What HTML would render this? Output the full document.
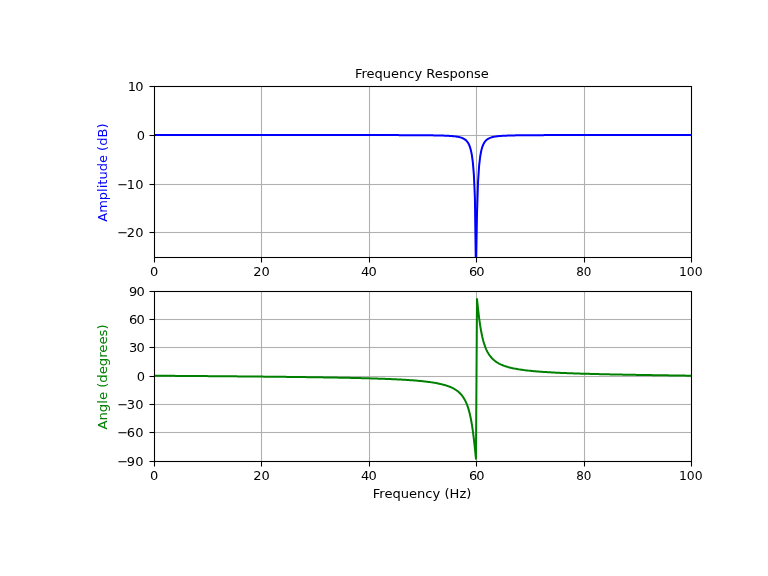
<!DOCTYPE html>
<html lang="en">
<head>
<meta charset="utf-8">
<title>Frequency Response</title>
<style>
html,body{margin:0;padding:0;background:#ffffff;overflow:hidden}
svg{display:block}
text{font-family:"DejaVu Sans","Liberation Sans",sans-serif;font-size:13px;fill:#000000}
.grid{fill:#b0b0b0}
.ax{fill:#000000}
.curve{fill:none;stroke-width:2.000;stroke-linejoin:round;stroke-linecap:square}
</style>
</head>
<body>
<svg width="768" height="576" viewBox="0 0 768 576">
<rect x="0" y="0" width="768" height="576" fill="#ffffff"/>
<defs>
<clipPath id="c0"><rect x="154" y="86" width="537" height="171"/></clipPath>
<clipPath id="c1"><rect x="154" y="291" width="537" height="170"/></clipPath>
</defs>
<g id="axes0">
<rect class="grid" x="153.9667" y="86.000" width="1.0667" height="171.000"/>
<rect class="grid" x="260.9667" y="86.000" width="1.0667" height="171.000"/>
<rect class="grid" x="368.9667" y="86.000" width="1.0667" height="171.000"/>
<rect class="grid" x="475.9667" y="86.000" width="1.0667" height="171.000"/>
<rect class="grid" x="583.9667" y="86.000" width="1.0667" height="171.000"/>
<rect class="grid" x="690.9667" y="86.000" width="1.0667" height="171.000"/>
<rect class="grid" x="154.000" y="231.9667" width="537.000" height="1.0667"/>
<rect class="grid" x="154.000" y="183.9667" width="537.000" height="1.0667"/>
<rect class="grid" x="154.000" y="134.9667" width="537.000" height="1.0667"/>
<rect class="grid" x="154.000" y="85.9667" width="537.000" height="1.0667"/>
<polyline class="curve" clip-path="url(#c0)" stroke="#0000ff" points="153.60,135.02 154.65,135.02 155.70,135.02 156.75,135.02 157.80,135.02 158.85,135.02 159.90,135.02 160.95,135.02 162.00,135.02 163.05,135.02 164.10,135.02 165.15,135.02 166.20,135.02 167.25,135.02 168.30,135.02 169.35,135.02 170.40,135.02 171.45,135.02 172.50,135.02 173.55,135.02 174.60,135.02 175.65,135.02 176.70,135.02 177.75,135.02 178.80,135.02 179.85,135.02 180.90,135.02 181.95,135.02 183.00,135.02 184.05,135.02 185.10,135.02 186.15,135.02 187.20,135.02 188.25,135.02 189.30,135.02 190.35,135.02 191.40,135.02 192.45,135.02 193.50,135.02 194.55,135.02 195.60,135.02 196.65,135.02 197.70,135.02 198.75,135.02 199.80,135.02 200.85,135.02 201.90,135.02 202.95,135.02 204.00,135.02 205.05,135.02 206.10,135.02 207.15,135.02 208.20,135.02 209.25,135.02 210.30,135.02 211.35,135.02 212.40,135.02 213.45,135.02 214.50,135.03 215.55,135.03 216.60,135.03 217.65,135.03 218.70,135.03 219.75,135.03 220.80,135.03 221.85,135.03 222.90,135.03 223.95,135.03 225.00,135.03 226.05,135.03 227.10,135.03 228.15,135.03 229.20,135.03 230.25,135.03 231.30,135.03 232.35,135.03 233.40,135.03 234.45,135.03 235.50,135.03 236.55,135.03 237.60,135.03 238.65,135.03 239.70,135.03 240.75,135.03 241.80,135.03 242.85,135.03 243.90,135.03 244.95,135.03 246.00,135.03 247.05,135.03 248.10,135.03 249.15,135.03 250.20,135.03 251.25,135.03 252.30,135.03 253.35,135.03 254.40,135.03 255.45,135.03 256.50,135.03 257.55,135.03 258.60,135.03 259.65,135.03 260.70,135.03 261.75,135.03 262.80,135.03 263.85,135.03 264.90,135.03 265.95,135.03 267.00,135.03 268.05,135.03 269.10,135.03 270.15,135.03 271.20,135.03 272.25,135.03 273.30,135.03 274.35,135.03 275.40,135.03 276.45,135.03 277.50,135.03 278.55,135.03 279.60,135.03 280.65,135.03 281.70,135.03 282.75,135.03 283.80,135.03 284.85,135.03 285.90,135.03 286.95,135.03 288.00,135.03 289.05,135.03 290.10,135.03 291.15,135.03 292.20,135.03 293.25,135.03 294.30,135.03 295.35,135.04 296.40,135.04 297.45,135.04 298.50,135.04 299.55,135.04 300.60,135.04 301.65,135.04 302.70,135.04 303.75,135.04 304.80,135.04 305.85,135.04 306.90,135.04 307.95,135.04 309.00,135.04 310.05,135.04 311.10,135.04 312.15,135.04 313.20,135.04 314.25,135.04 315.30,135.04 316.35,135.04 317.40,135.04 318.45,135.04 319.50,135.04 320.55,135.04 321.60,135.04 322.65,135.04 323.70,135.04 324.75,135.04 325.80,135.04 326.85,135.04 327.90,135.05 328.95,135.05 330.00,135.05 331.05,135.05 332.10,135.05 333.15,135.05 334.20,135.05 335.25,135.05 336.30,135.05 337.35,135.05 338.40,135.05 339.45,135.05 340.50,135.05 341.55,135.05 342.60,135.05 343.65,135.05 344.70,135.05 345.75,135.05 346.80,135.05 347.85,135.06 348.90,135.06 349.95,135.06 351.00,135.06 352.05,135.06 353.10,135.06 354.15,135.06 355.20,135.06 356.25,135.06 357.30,135.06 358.35,135.06 359.40,135.06 360.45,135.06 361.50,135.07 362.55,135.07 363.60,135.07 364.65,135.07 365.70,135.07 366.75,135.07 367.80,135.07 368.85,135.07 369.90,135.07 370.95,135.08 372.00,135.08 373.05,135.08 374.10,135.08 375.15,135.08 376.20,135.08 377.25,135.08 378.30,135.08 379.35,135.09 380.40,135.09 381.45,135.09 382.50,135.09 383.55,135.09 384.60,135.09 385.65,135.10 386.70,135.10 387.75,135.10 388.80,135.10 389.85,135.10 390.90,135.11 391.95,135.11 393.00,135.11 394.05,135.11 395.10,135.12 396.15,135.12 397.20,135.12 398.25,135.12 399.30,135.13 400.35,135.13 401.40,135.13 402.45,135.14 403.50,135.14 404.55,135.14 405.60,135.15 406.65,135.15 407.70,135.16 408.75,135.16 409.80,135.16 410.85,135.17 411.90,135.17 412.95,135.18 414.00,135.19 415.05,135.19 416.10,135.20 417.15,135.20 418.20,135.21 419.25,135.22 420.30,135.22 421.35,135.23 422.40,135.24 423.45,135.25 424.50,135.26 425.55,135.27 426.60,135.28 427.65,135.29 428.70,135.30 429.75,135.32 430.80,135.33 431.85,135.34 432.90,135.36 433.95,135.38 435.00,135.39 436.05,135.41 437.10,135.43 438.15,135.46 439.20,135.48 440.25,135.51 441.30,135.54 442.35,135.57 443.40,135.61 444.45,135.64 445.50,135.69 446.55,135.73 447.60,135.78 448.65,135.84 449.70,135.91 450.75,135.98 451.80,136.06 452.85,136.15 453.90,136.26 454.95,136.38 456.00,136.52 457.05,136.68 458.10,136.86 459.15,137.08 460.20,137.35 461.25,137.66 462.30,138.04 463.35,138.52 464.40,139.10 465.45,139.85 466.50,140.80 467.55,142.07 468.60,143.76 469.65,146.11 470.70,149.44 471.75,154.36 472.80,161.94 473.85,174.36 474.90,197.49 475.95,272.02 477.00,213.91 478.05,181.58 479.10,165.95 480.15,156.78 481.20,150.96 482.25,147.08 483.30,144.40 484.35,142.48 485.40,141.08 486.45,140.02 487.50,139.21 488.55,138.58 489.60,138.07 490.65,137.67 491.70,137.33 492.75,137.06 493.80,136.83 494.85,136.63 495.90,136.47 496.95,136.33 498.00,136.20 499.05,136.10 500.10,136.00 501.15,135.92 502.20,135.85 503.25,135.78 504.30,135.73 505.35,135.68 506.40,135.63 507.45,135.59 508.50,135.55 509.55,135.52 510.60,135.49 511.65,135.46 512.70,135.43 513.75,135.41 514.80,135.39 515.85,135.36 516.90,135.35 517.95,135.33 519.00,135.31 520.05,135.30 521.10,135.28 522.15,135.27 523.20,135.26 524.25,135.25 525.30,135.24 526.35,135.23 527.40,135.22 528.45,135.21 529.50,135.20 530.55,135.19 531.60,135.19 532.65,135.18 533.70,135.17 534.75,135.17 535.80,135.16 536.85,135.16 537.90,135.15 538.95,135.15 540.00,135.14 541.05,135.14 542.10,135.13 543.15,135.13 544.20,135.12 545.25,135.12 546.30,135.12 547.35,135.11 548.40,135.11 549.45,135.11 550.50,135.10 551.55,135.10 552.60,135.10 553.65,135.10 554.70,135.09 555.75,135.09 556.80,135.09 557.85,135.09 558.90,135.08 559.95,135.08 561.00,135.08 562.05,135.08 563.10,135.08 564.15,135.08 565.20,135.07 566.25,135.07 567.30,135.07 568.35,135.07 569.40,135.07 570.45,135.07 571.50,135.06 572.55,135.06 573.60,135.06 574.65,135.06 575.70,135.06 576.75,135.06 577.80,135.06 578.85,135.06 579.90,135.06 580.95,135.05 582.00,135.05 583.05,135.05 584.10,135.05 585.15,135.05 586.20,135.05 587.25,135.05 588.30,135.05 589.35,135.05 590.40,135.05 591.45,135.05 592.50,135.05 593.55,135.04 594.60,135.04 595.65,135.04 596.70,135.04 597.75,135.04 598.80,135.04 599.85,135.04 600.90,135.04 601.95,135.04 603.00,135.04 604.05,135.04 605.10,135.04 606.15,135.04 607.20,135.04 608.25,135.04 609.30,135.04 610.35,135.04 611.40,135.04 612.45,135.04 613.50,135.03 614.55,135.03 615.60,135.03 616.65,135.03 617.70,135.03 618.75,135.03 619.80,135.03 620.85,135.03 621.90,135.03 622.95,135.03 624.00,135.03 625.05,135.03 626.10,135.03 627.15,135.03 628.20,135.03 629.25,135.03 630.30,135.03 631.35,135.03 632.40,135.03 633.45,135.03 634.50,135.03 635.55,135.03 636.60,135.03 637.65,135.03 638.70,135.03 639.75,135.03 640.80,135.03 641.85,135.03 642.90,135.03 643.95,135.03 645.00,135.03 646.05,135.03 647.10,135.03 648.15,135.03 649.20,135.03 650.25,135.03 651.30,135.03 652.35,135.03 653.40,135.03 654.45,135.03 655.50,135.03 656.55,135.03 657.60,135.03 658.65,135.03 659.70,135.02 660.75,135.02 661.80,135.02 662.85,135.02 663.90,135.02 664.95,135.02 666.00,135.02 667.05,135.02 668.10,135.02 669.15,135.02 670.20,135.02 671.25,135.02 672.30,135.02 673.35,135.02 674.40,135.02 675.45,135.02 676.50,135.02 677.55,135.02 678.60,135.02 679.65,135.02 680.70,135.02 681.75,135.02 682.80,135.02 683.85,135.02 684.90,135.02 685.95,135.02 687.00,135.02 688.05,135.02 689.10,135.02 690.15,135.02"/>
<rect class="ax" x="153.9667" y="257.500" width="1.0667" height="5.000"/>
<rect class="ax" x="260.9667" y="257.500" width="1.0667" height="5.000"/>
<rect class="ax" x="368.9667" y="257.500" width="1.0667" height="5.000"/>
<rect class="ax" x="475.9667" y="257.500" width="1.0667" height="5.000"/>
<rect class="ax" x="583.9667" y="257.500" width="1.0667" height="5.000"/>
<rect class="ax" x="690.9667" y="257.500" width="1.0667" height="5.000"/>
<rect class="ax" x="149.500" y="231.9667" width="5.000" height="1.0667"/>
<rect class="ax" x="149.500" y="183.9667" width="5.000" height="1.0667"/>
<rect class="ax" x="149.500" y="134.9667" width="5.000" height="1.0667"/>
<rect class="ax" x="149.500" y="85.9667" width="5.000" height="1.0667"/>
<rect class="ax" x="153.9667" y="87.033" width="1.0667" height="169.933"/>
<rect class="ax" x="690.9667" y="87.033" width="1.0667" height="169.933"/>
<rect class="ax" x="153.967" y="85.9667" width="538.067" height="1.0667"/>
<rect class="ax" x="153.967" y="256.9667" width="538.067" height="1.0667"/>
<text x="150.06" y="275.88">0</text>
<text x="253.30 261.57" y="275.88">20</text>
<text x="360.99 368.45" y="275.88">40</text>
<text x="468.95 476.16" y="275.88">60</text>
<text transform="translate(576.14 275.88) scale(0.9200 1)" x="0.00 8.39">80</text>
<text transform="translate(679.03 275.88) scale(0.9550 1)" x="0.00 8.00 16.52">100</text>
<text x="117.24 126.79 135.20" y="237.27">−20</text>
<text x="117.24 126.79 135.20" y="188.65">−10</text>
<text x="136.85" y="140.02">0</text>
<text x="127.83 135.20" y="91.40">10</text>
</g>
<g id="axes1">
<rect class="grid" x="153.9667" y="291.000" width="1.0667" height="170.000"/>
<rect class="grid" x="260.9667" y="291.000" width="1.0667" height="170.000"/>
<rect class="grid" x="368.9667" y="291.000" width="1.0667" height="170.000"/>
<rect class="grid" x="475.9667" y="291.000" width="1.0667" height="170.000"/>
<rect class="grid" x="583.9667" y="291.000" width="1.0667" height="170.000"/>
<rect class="grid" x="690.9667" y="291.000" width="1.0667" height="170.000"/>
<rect class="grid" x="154.000" y="460.9667" width="537.000" height="1.0667"/>
<rect class="grid" x="154.000" y="431.9667" width="537.000" height="1.0667"/>
<rect class="grid" x="154.000" y="403.9667" width="537.000" height="1.0667"/>
<rect class="grid" x="154.000" y="375.9667" width="537.000" height="1.0667"/>
<rect class="grid" x="154.000" y="346.9667" width="537.000" height="1.0667"/>
<rect class="grid" x="154.000" y="318.9667" width="537.000" height="1.0667"/>
<rect class="grid" x="154.000" y="290.9667" width="537.000" height="1.0667"/>
<polyline class="curve" clip-path="url(#c1)" stroke="#008000" points="153.60,375.71 154.65,375.72 155.70,375.73 156.75,375.73 157.80,375.74 158.85,375.75 159.90,375.76 160.95,375.76 162.00,375.77 163.05,375.78 164.10,375.79 165.15,375.80 166.20,375.80 167.25,375.81 168.30,375.82 169.35,375.83 170.40,375.84 171.45,375.85 172.50,375.85 173.55,375.86 174.60,375.87 175.65,375.88 176.70,375.89 177.75,375.89 178.80,375.90 179.85,375.91 180.90,375.92 181.95,375.93 183.00,375.93 184.05,375.94 185.10,375.95 186.15,375.96 187.20,375.97 188.25,375.97 189.30,375.98 190.35,375.99 191.40,376.00 192.45,376.01 193.50,376.02 194.55,376.02 195.60,376.03 196.65,376.04 197.70,376.05 198.75,376.06 199.80,376.07 200.85,376.07 201.90,376.08 202.95,376.09 204.00,376.10 205.05,376.11 206.10,376.12 207.15,376.12 208.20,376.13 209.25,376.14 210.30,376.15 211.35,376.16 212.40,376.17 213.45,376.18 214.50,376.18 215.55,376.19 216.60,376.20 217.65,376.21 218.70,376.22 219.75,376.23 220.80,376.24 221.85,376.25 222.90,376.26 223.95,376.26 225.00,376.27 226.05,376.28 227.10,376.29 228.15,376.30 229.20,376.31 230.25,376.32 231.30,376.33 232.35,376.34 233.40,376.35 234.45,376.35 235.50,376.36 236.55,376.37 237.60,376.38 238.65,376.39 239.70,376.40 240.75,376.41 241.80,376.42 242.85,376.43 243.90,376.44 244.95,376.45 246.00,376.46 247.05,376.47 248.10,376.48 249.15,376.49 250.20,376.50 251.25,376.51 252.30,376.52 253.35,376.53 254.40,376.54 255.45,376.55 256.50,376.56 257.55,376.57 258.60,376.58 259.65,376.59 260.70,376.60 261.75,376.61 262.80,376.62 263.85,376.63 264.90,376.64 265.95,376.65 267.00,376.66 268.05,376.67 269.10,376.69 270.15,376.70 271.20,376.71 272.25,376.72 273.30,376.73 274.35,376.74 275.40,376.75 276.45,376.76 277.50,376.77 278.55,376.79 279.60,376.80 280.65,376.81 281.70,376.82 282.75,376.83 283.80,376.84 284.85,376.86 285.90,376.87 286.95,376.88 288.00,376.89 289.05,376.91 290.10,376.92 291.15,376.93 292.20,376.94 293.25,376.96 294.30,376.97 295.35,376.98 296.40,377.00 297.45,377.01 298.50,377.02 299.55,377.04 300.60,377.05 301.65,377.06 302.70,377.08 303.75,377.09 304.80,377.10 305.85,377.12 306.90,377.13 307.95,377.15 309.00,377.16 310.05,377.18 311.10,377.19 312.15,377.21 313.20,377.22 314.25,377.24 315.30,377.25 316.35,377.27 317.40,377.28 318.45,377.30 319.50,377.31 320.55,377.33 321.60,377.35 322.65,377.36 323.70,377.38 324.75,377.40 325.80,377.41 326.85,377.43 327.90,377.45 328.95,377.46 330.00,377.48 331.05,377.50 332.10,377.52 333.15,377.54 334.20,377.56 335.25,377.57 336.30,377.59 337.35,377.61 338.40,377.63 339.45,377.65 340.50,377.67 341.55,377.69 342.60,377.71 343.65,377.73 344.70,377.75 345.75,377.78 346.80,377.80 347.85,377.82 348.90,377.84 349.95,377.86 351.00,377.89 352.05,377.91 353.10,377.93 354.15,377.96 355.20,377.98 356.25,378.01 357.30,378.03 358.35,378.06 359.40,378.08 360.45,378.11 361.50,378.13 362.55,378.16 363.60,378.19 364.65,378.22 365.70,378.25 366.75,378.27 367.80,378.30 368.85,378.33 369.90,378.36 370.95,378.39 372.00,378.43 373.05,378.46 374.10,378.49 375.15,378.52 376.20,378.56 377.25,378.59 378.30,378.63 379.35,378.66 380.40,378.70 381.45,378.73 382.50,378.77 383.55,378.81 384.60,378.85 385.65,378.89 386.70,378.93 387.75,378.97 388.80,379.02 389.85,379.06 390.90,379.11 391.95,379.15 393.00,379.20 394.05,379.25 395.10,379.30 396.15,379.35 397.20,379.40 398.25,379.45 399.30,379.51 400.35,379.56 401.40,379.62 402.45,379.68 403.50,379.74 404.55,379.80 405.60,379.86 406.65,379.93 407.70,380.00 408.75,380.07 409.80,380.14 410.85,380.21 411.90,380.29 412.95,380.36 414.00,380.45 415.05,380.53 416.10,380.61 417.15,380.70 418.20,380.80 419.25,380.89 420.30,380.99 421.35,381.09 422.40,381.20 423.45,381.31 424.50,381.42 425.55,381.54 426.60,381.67 427.65,381.80 428.70,381.93 429.75,382.07 430.80,382.22 431.85,382.37 432.90,382.53 433.95,382.70 435.00,382.88 436.05,383.06 437.10,383.26 438.15,383.46 439.20,383.68 440.25,383.91 441.30,384.15 442.35,384.41 443.40,384.68 444.45,384.97 445.50,385.28 446.55,385.61 447.60,385.96 448.65,386.34 449.70,386.75 450.75,387.19 451.80,387.66 452.85,388.18 453.90,388.74 454.95,389.35 456.00,390.02 457.05,390.76 458.10,391.58 459.15,392.49 460.20,393.51 461.25,394.66 462.30,395.96 463.35,397.44 464.40,399.14 465.45,401.11 466.50,403.41 467.55,406.13 468.60,409.37 469.65,413.26 470.70,417.97 471.75,423.70 472.80,430.62 473.85,438.86 474.90,448.35 475.95,458.69 477.00,299.02 478.05,308.96 479.10,317.79 480.15,325.30 481.20,331.55 482.25,336.69 483.30,340.93 484.35,344.45 485.40,347.39 486.45,349.87 487.50,351.98 488.55,353.80 489.60,355.37 490.65,356.75 491.70,357.96 492.75,359.03 493.80,359.99 494.85,360.85 495.90,361.63 496.95,362.33 498.00,362.97 499.05,363.55 500.10,364.09 501.15,364.58 502.20,365.03 503.25,365.46 504.30,365.85 505.35,366.21 506.40,366.55 507.45,366.87 508.50,367.17 509.55,367.45 510.60,367.71 511.65,367.96 512.70,368.20 513.75,368.42 514.80,368.63 515.85,368.83 516.90,369.02 517.95,369.20 519.00,369.37 520.05,369.54 521.10,369.70 522.15,369.85 523.20,369.99 524.25,370.13 525.30,370.26 526.35,370.39 527.40,370.51 528.45,370.63 529.50,370.74 530.55,370.85 531.60,370.95 532.65,371.05 533.70,371.15 534.75,371.24 535.80,371.34 536.85,371.42 537.90,371.51 538.95,371.59 540.00,371.67 541.05,371.75 542.10,371.83 543.15,371.90 544.20,371.97 545.25,372.04 546.30,372.11 547.35,372.17 548.40,372.23 549.45,372.30 550.50,372.36 551.55,372.42 552.60,372.47 553.65,372.53 554.70,372.58 555.75,372.64 556.80,372.69 557.85,372.74 558.90,372.79 559.95,372.84 561.00,372.88 562.05,372.93 563.10,372.98 564.15,373.02 565.20,373.06 566.25,373.11 567.30,373.15 568.35,373.19 569.40,373.23 570.45,373.27 571.50,373.31 572.55,373.35 573.60,373.38 574.65,373.42 575.70,373.46 576.75,373.49 577.80,373.53 578.85,373.56 579.90,373.59 580.95,373.63 582.00,373.66 583.05,373.69 584.10,373.72 585.15,373.75 586.20,373.78 587.25,373.81 588.30,373.84 589.35,373.87 590.40,373.90 591.45,373.93 592.50,373.96 593.55,373.98 594.60,374.01 595.65,374.04 596.70,374.06 597.75,374.09 598.80,374.11 599.85,374.14 600.90,374.16 601.95,374.19 603.00,374.21 604.05,374.24 605.10,374.26 606.15,374.29 607.20,374.31 608.25,374.33 609.30,374.35 610.35,374.38 611.40,374.40 612.45,374.42 613.50,374.44 614.55,374.46 615.60,374.49 616.65,374.51 617.70,374.53 618.75,374.55 619.80,374.57 620.85,374.59 621.90,374.61 622.95,374.63 624.00,374.65 625.05,374.67 626.10,374.69 627.15,374.71 628.20,374.73 629.25,374.75 630.30,374.77 631.35,374.78 632.40,374.80 633.45,374.82 634.50,374.84 635.55,374.86 636.60,374.88 637.65,374.89 638.70,374.91 639.75,374.93 640.80,374.95 641.85,374.96 642.90,374.98 643.95,375.00 645.00,375.02 646.05,375.03 647.10,375.05 648.15,375.07 649.20,375.08 650.25,375.10 651.30,375.12 652.35,375.13 653.40,375.15 654.45,375.17 655.50,375.18 656.55,375.20 657.60,375.21 658.65,375.23 659.70,375.25 660.75,375.26 661.80,375.28 662.85,375.29 663.90,375.31 664.95,375.33 666.00,375.34 667.05,375.36 668.10,375.37 669.15,375.39 670.20,375.40 671.25,375.42 672.30,375.44 673.35,375.45 674.40,375.47 675.45,375.48 676.50,375.50 677.55,375.51 678.60,375.53 679.65,375.54 680.70,375.56 681.75,375.57 682.80,375.59 683.85,375.60 684.90,375.62 685.95,375.63 687.00,375.65 688.05,375.66 689.10,375.68 690.15,375.69"/>
<rect class="ax" x="153.9667" y="461.500" width="1.0667" height="5.000"/>
<rect class="ax" x="260.9667" y="461.500" width="1.0667" height="5.000"/>
<rect class="ax" x="368.9667" y="461.500" width="1.0667" height="5.000"/>
<rect class="ax" x="475.9667" y="461.500" width="1.0667" height="5.000"/>
<rect class="ax" x="583.9667" y="461.500" width="1.0667" height="5.000"/>
<rect class="ax" x="690.9667" y="461.500" width="1.0667" height="5.000"/>
<rect class="ax" x="149.500" y="460.9667" width="5.000" height="1.0667"/>
<rect class="ax" x="149.500" y="431.9667" width="5.000" height="1.0667"/>
<rect class="ax" x="149.500" y="403.9667" width="5.000" height="1.0667"/>
<rect class="ax" x="149.500" y="375.9667" width="5.000" height="1.0667"/>
<rect class="ax" x="149.500" y="346.9667" width="5.000" height="1.0667"/>
<rect class="ax" x="149.500" y="318.9667" width="5.000" height="1.0667"/>
<rect class="ax" x="149.500" y="290.9667" width="5.000" height="1.0667"/>
<rect class="ax" x="153.9667" y="292.033" width="1.0667" height="168.933"/>
<rect class="ax" x="690.9667" y="292.033" width="1.0667" height="168.933"/>
<rect class="ax" x="153.967" y="290.9667" width="538.067" height="1.0667"/>
<rect class="ax" x="153.967" y="460.9667" width="538.067" height="1.0667"/>
<text x="150.06" y="480.10">0</text>
<text x="253.30 261.57" y="480.10">20</text>
<text x="360.99 368.45" y="480.10">40</text>
<text x="468.95 476.16" y="480.10">60</text>
<text transform="translate(576.14 480.10) scale(0.9200 1)" x="0.00 8.39">80</text>
<text transform="translate(679.03 480.10) scale(0.9550 1)" x="0.00 8.00 16.52">100</text>
<text x="117.24 126.79 135.20" y="465.80">−90</text>
<text x="117.24 126.79 135.20" y="437.44">−60</text>
<text x="117.24 126.79 135.20" y="409.07">−30</text>
<text x="136.85" y="380.71">0</text>
<text x="128.89 136.45" y="352.35">30</text>
<text x="128.89 136.45" y="323.98">60</text>
<text x="128.89 136.45" y="295.62">90</text>
</g>
<text x="421.90" y="78.40" text-anchor="middle">Frequency Response</text>
<text transform="translate(422.05 498.40) scale(1.0076 1)" text-anchor="middle">Frequency (Hz)</text>
<text transform="translate(106.65 172.64) rotate(-90) scale(1.0030 1)" text-anchor="middle" style="fill:#0000ff">Amplitude (dB)</text>
<text transform="translate(106.65 376.96) rotate(-90) scale(1.0160 1)" text-anchor="middle" style="fill:#008000">Angle (degrees)</text>
</svg>
</body>
</html>
